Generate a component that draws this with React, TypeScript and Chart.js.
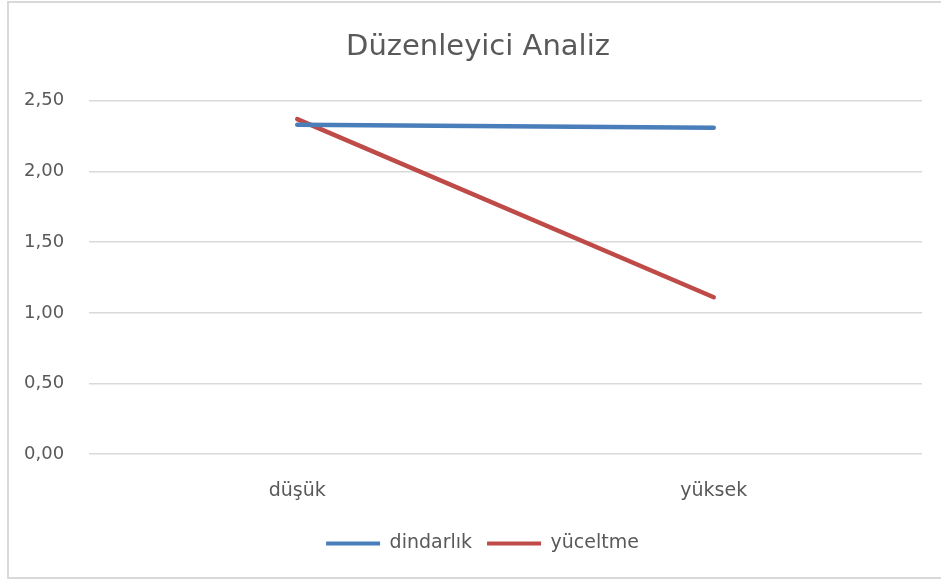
import React, { useEffect, useRef } from "react";
import { Chart, registerables } from "chart.js";

Chart.register(...registerables);

const categories = ["düşük", "yüksek"];
const dindarlik = [2.33, 2.31];
const yuceltme = [2.37, 1.11];
const yTicks = [0, 0.5, 1, 1.5, 2, 2.5];
const seriesNames = ["dindarlık", "yüceltme"];
const titleText = "Düzenleyici Analiz";

const FONT = "'DejaVu Sans', sans-serif";
const TEXT = "#595959";

// nudges the title and legend a little to the right, like the original's centring
const shiftPlugin = {
  id: "shiftBlocks",
  afterLayout(chart: any) {
    if (chart.titleBlock) chart.titleBlock.left += 10;
    if (chart.legend) chart.legend.left += 19;
  },
};

export default function App() {
  const ref = useRef<HTMLCanvasElement>(null);
  useEffect(() => {
    document.body.style.margin = "0";
    const chart = new Chart(ref.current!, {
      type: "line",
      data: {
        labels: categories,
        datasets: [
          {
            label: seriesNames[0],
            data: dindarlik,
            borderColor: "#4a7ebb",
            backgroundColor: "#4a7ebb",
            borderWidth: 4.5,
            pointRadius: 0,
            borderCapStyle: "round",
            tension: 0,
          },
          {
            label: seriesNames[1],
            data: yuceltme,
            borderColor: "#be4b48",
            backgroundColor: "#be4b48",
            borderWidth: 4.5,
            pointRadius: 0,
            borderCapStyle: "round",
            tension: 0,
          },
        ],
      },
      plugins: [shiftPlugin],
      options: {
        responsive: false,
        animation: false,
        layout: { padding: { left: 24, right: 19, top: 0, bottom: 20 } },
        plugins: {
          title: {
            display: true,
            text: titleText,
            color: TEXT,
            font: { family: FONT, size: 29, weight: "normal" },
            padding: { top: 30, bottom: 36 },
          },
          legend: {
            position: "bottom",
            labels: {
              color: TEXT,
              font: { family: FONT, size: 19 },
              boxWidth: 54,
              boxHeight: 4,
              padding: 15,
              generateLabels: (c: any) =>
                c.data.datasets.map((d: any, i: number) => ({
                  text: d.label,
                  fillStyle: d.borderColor,
                  strokeStyle: d.borderColor,
                  lineWidth: 0,
                  hidden: false,
                  datasetIndex: i,
                  fontColor: TEXT,
                })),
            },
          },
          tooltip: { enabled: false },
        },
        scales: {
          x: {
            offset: true,
            grid: { display: false },
            border: { display: false },
            ticks: { color: TEXT, font: { family: FONT, size: 19 }, padding: 17 },
          },
          y: {
            min: 0,
            max: 2.5,
            afterBuildTicks: (s: any) => {
              s.ticks = yTicks.map((v) => ({ value: v }));
            },
            afterFit: (s: any) => {
              s.width = 65;
            },
            ticks: {
              color: TEXT,
              font: { family: FONT, size: 18 },
              crossAlign: "far",
              padding: 24,
              callback: (v: any) => Number(v).toFixed(2).replace(".", ","),
            },
            grid: { color: "#d9d9d9", lineWidth: 1.5, drawTicks: false },
            border: { display: false },
          },
        },
      },
    } as any);
    return () => chart.destroy();
  }, []);
  return (
    <div style={{ position: "relative", width: 941, height: 583, background: "#fff", overflow: "hidden" }}>
      <div
        style={{
          position: "absolute",
          left: 7,
          top: 1,
          right: 0,
          height: 578,
          borderLeft: "2px solid #d9d9d9",
          borderTop: "2px solid #d9d9d9",
          borderBottom: "2px solid #d9d9d9",
          boxSizing: "border-box",
        }}
      />
      <canvas ref={ref} width={941} height={583} style={{ position: "absolute", left: 0, top: 0 }} />
    </div>
  );
}
